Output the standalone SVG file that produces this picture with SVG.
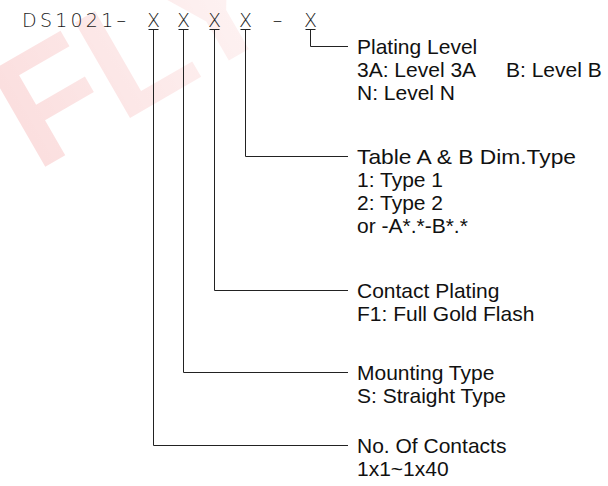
<svg xmlns="http://www.w3.org/2000/svg" width="608" height="486" viewBox="0 0 608 486">
<defs>
<linearGradient id="wm" gradientUnits="userSpaceOnUse" x1="0" y1="0" x2="300" y2="0">
<stop offset="0" stop-color="#e00000" stop-opacity="0.13"/>
<stop offset="1" stop-color="#e00000" stop-opacity="0.04"/>
</linearGradient>
</defs>
<style>
.wm{font-family:"Liberation Sans",Arial,sans-serif;font-weight:bold;font-size:160px;fill:url(#wm)}
.code{font-family:"DejaVu Sans","Liberation Sans",sans-serif;font-weight:200;font-size:19px;fill:#1a1a1a}
.lbl{font-family:"Liberation Sans",Arial,sans-serif;font-size:21px;fill:#111}
.ln{fill:none;stroke:#222;stroke-width:1}
</style>
<rect width="608" height="486" fill="#fff"/>
<text class="wm" transform="translate(36,172) rotate(-30)">FLY</text>
<g id="code">
<text class="code" x="22" y="26.5" textLength="104" lengthAdjust="spacing">DS1021–</text>
<text class="code" x="153.5" y="26.5" text-anchor="middle">X</text>
<text class="code" x="183.5" y="26.5" text-anchor="middle">X</text>
<text class="code" x="214.5" y="26.5" text-anchor="middle">X</text>
<text class="code" x="245.5" y="26.5" text-anchor="middle">X</text>
<text class="code" x="277.5" y="26.5" text-anchor="middle">–</text>
<text class="code" x="310.5" y="26.5" text-anchor="middle">X</text>
</g>
<g id="connectors">
<path class="ln" d="M148.5 29.5H158.5M153.5 29.5V445.5H348"/>
<path class="ln" d="M178.5 29.5H188.5M183.5 29.5V372.5H348"/>
<path class="ln" d="M209.5 29.5H219.5M214.5 29.5V290.5H348"/>
<path class="ln" d="M240.5 29.5H250.5M245.5 29.5V156.5H348"/>
<path class="ln" d="M305.5 29.5H315.5M310.5 29.5V46.5H348"/>
</g>
<g id="plating-level">
<text class="lbl" x="357" y="53.5">Plating Level</text>
<text class="lbl" x="357" y="76.5">3A: Level 3A</text>
<text class="lbl" x="506" y="76.5">B: Level B</text>
<text class="lbl" x="357" y="99.5">N: Level N</text>
</g>
<g id="dim-type">
<text class="lbl" x="357" y="164" textLength="219" lengthAdjust="spacingAndGlyphs">Table A &amp; B Dim.Type</text>
<text class="lbl" x="357" y="187">1: Type 1</text>
<text class="lbl" x="357" y="210">2: Type 2</text>
<text class="lbl" x="357" y="233">or -A*.*-B*.*</text>
</g>
<g id="contact-plating">
<text class="lbl" x="357" y="298">Contact Plating</text>
<text class="lbl" x="357" y="321">F1: Full Gold Flash</text>
</g>
<g id="mounting-type">
<text class="lbl" x="357" y="380">Mounting Type</text>
<text class="lbl" x="357" y="403">S: Straight Type</text>
</g>
<g id="contacts">
<text class="lbl" x="357" y="453">No. Of Contacts</text>
<text class="lbl" x="357" y="476">1x1~1x40</text>
</g>
</svg>
